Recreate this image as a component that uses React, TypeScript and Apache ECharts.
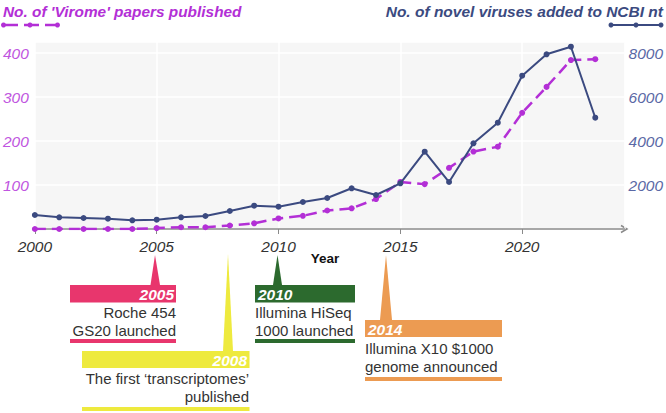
import React, { useEffect, useRef } from "react";
import * as echarts from "echarts";

const years = [2000, 2001, 2002, 2003, 2004, 2005, 2006, 2007, 2008, 2009, 2010, 2011, 2012, 2013, 2014, 2015, 2016, 2017, 2018, 2019, 2020, 2021, 2022, 2023];
const viromePapers = [0, 0, 0, 0, 0, 2, 4, 4, 8, 13, 24, 30, 42, 47, 68, 107, 102, 139, 176, 187, 264, 323, 384, 386];
const novelViruses = [636, 532, 500, 468, 395, 423, 532, 590, 818, 1060, 1014, 1227, 1409, 1850, 1545, 2077, 3514, 2136, 3895, 4832, 6968, 7941, 8286, 5059];

const leftTitle = "No. of 'Virome' papers published";
const rightTitle = "No. of novel viruses added to NCBI nt";
const xName = "Year";

const PURPLE = "#b32fd6";
const PURPLE_LABEL = "#c055e0";
const BLUE = "#3b4a80";
const BLUE_LABEL = "#5a68a5";
const FONT = "'Liberation Sans', Arial, Helvetica, sans-serif";

const PINK = "#e8366d";
const YELLOW = "#eeea3e";
const GREEN = "#2c6a2e";
const ORANGE = "#ec9b52";

function tri(x1: number, apexX: number, apexY: number, x2: number, baseY: number, color: string) {
  return {
    type: "polygon",
    shape: { points: [[x1, baseY], [apexX, apexY], [x2, baseY]] },
    style: { fill: color },
    silent: true,
  };
}
function rect(x: number, y: number, w: number, h: number, color: string) {
  return { type: "rect", shape: { x, y, width: w, height: h }, style: { fill: color }, silent: true };
}
function txt(x: number, y: number, text: string, opts: any = {}) {
  return {
    type: "text",
    x,
    y,
    silent: true,
    style: {
      text,
      fontFamily: FONT,
      fontSize: 15,
      fill: "#333333",
      align: "left",
      verticalAlign: "middle",
      lineHeight: 18,
      ...opts,
    },
  };
}

export default function App() {
  const ref = useRef<HTMLDivElement>(null);
  useEffect(() => {
    const chart = echarts.init(ref.current!, null, { renderer: "svg" });
    const papersData = years.map((y, i) => [y, viromePapers[i]]);
    const virusData = years.map((y, i) => [y, novelViruses[i]]);

    const graphic: any[] = [
      // titles
      txt(3, 11, leftTitle, { fontSize: 15.4, fontWeight: "bold", fontStyle: "italic", fill: PURPLE }),
      txt(663, 11, rightTitle, { fontSize: 15.5, fontWeight: "bold", fontStyle: "italic", fill: BLUE, align: "right" }),
      // legend purple
      { type: "line", shape: { x1: 3, y1: 25, x2: 58, y2: 25 }, style: { stroke: PURPLE, lineWidth: 2.5, lineDash: [15, 6] }, silent: true },
      { type: "circle", shape: { cx: 3.5, cy: 25, r: 2.5 }, style: { fill: PURPLE }, silent: true },
      { type: "circle", shape: { cx: 30, cy: 25, r: 2.5 }, style: { fill: PURPLE }, silent: true },
      { type: "circle", shape: { cx: 57.5, cy: 25, r: 2.5 }, style: { fill: PURPLE }, silent: true },
      // legend blue
      { type: "line", shape: { x1: 611, y1: 25, x2: 661, y2: 25 }, style: { stroke: BLUE, lineWidth: 2 }, silent: true },
      { type: "circle", shape: { cx: 611, cy: 25, r: 2.5 }, style: { fill: BLUE }, silent: true },
      { type: "circle", shape: { cx: 636, cy: 25, r: 2.5 }, style: { fill: BLUE }, silent: true },
      { type: "circle", shape: { cx: 661, cy: 25, r: 2.5 }, style: { fill: BLUE }, silent: true },
      // axis name
      txt(325, 258, xName, { fontSize: 13.5, fontWeight: "bold", fill: "#111111", align: "center" }),
      // axis arrow head (open chevron)
      { type: "polyline", shape: { points: [[621, 225.5], [627, 229], [621, 232.5]] }, style: { stroke: "#8a8a8a", lineWidth: 1.5, fill: null }, silent: true },

      // 2005 pink
      tri(150.5, 155, 255, 160, 285, PINK),
      rect(70, 285, 106, 17.5, PINK),
      txt(174, 294, "2005", { fill: "#ffffff", fontWeight: "bold", fontStyle: "italic", fontSize: 15.5, align: "right" }),
      txt(176, 321, "Roche 454\nGS20 launched", { align: "right" }),
      rect(70, 339, 106, 4, PINK),

      // 2008 yellow
      tri(223, 228, 254, 233, 351, YELLOW),
      rect(82, 351, 167.5, 17, YELLOW),
      txt(247, 360, "2008", { fill: "#ffffff", fontWeight: "bold", fontStyle: "italic", fontSize: 15.5, align: "right" }),
      txt(249, 387, "The first \u2018transcriptomes\u2019\npublished", { align: "right" }),
      rect(82, 407, 167.5, 4, YELLOW),

      // 2010 green
      tri(273, 277.5, 255, 282, 285, GREEN),
      rect(255, 285, 100, 17.5, GREEN),
      txt(258, 294, "2010", { fill: "#ffffff", fontWeight: "bold", fontStyle: "italic", fontSize: 15.5 }),
      txt(255, 321, "Illumina HiSeq\n1000 launched"),
      rect(255, 339, 100, 4, GREEN),

      // 2014 orange
      tri(380, 386, 255, 392, 320, ORANGE),
      rect(365, 320, 137, 17, ORANGE),
      txt(368, 329, "2014", { fill: "#ffffff", fontWeight: "bold", fontStyle: "italic", fontSize: 15.5 }),
      txt(365, 357.5, "Illumina X10 $1000\ngenome announced"),
      rect(365, 377, 137, 4, ORANGE),
    ];

    chart.setOption({
      animation: false,
      textStyle: { fontFamily: FONT },
      grid: {
        left: 33,
        right: 40,
        top: 42,
        bottom: 184,
        show: true,
        backgroundColor: "#f6f6f6",
        borderWidth: 0,
      },
      xAxis: {
        type: "value",
        min: 2000,
        max: 2024.2,
        interval: 5,
        axisLine: {
          show: true,
          lineStyle: { color: "#8a8a8a", width: 1.5 },
        },
        axisTick: { show: true, length: 5, lineStyle: { color: "#8a8a8a", width: 1 } },
        axisLabel: {
          showMaxLabel: false,
          fontSize: 15.5,
          fontStyle: "italic",
          color: "#333333",
          margin: 9,
          formatter: (v: number) => String(Math.round(v)),
        },
        splitLine: { show: true, lineStyle: { color: "#ffffff", width: 1.5 } },
      },
      yAxis: [
        {
          type: "value",
          min: 0,
          max: 425,
          interval: 100,
          position: "left",
          axisLine: { show: false },
          axisTick: { show: false },
          axisLabel: {
            showMinLabel: false,
            showMaxLabel: false,
            fontSize: 15.5,
            fontStyle: "italic",
            color: PURPLE_LABEL,
            margin: 6,
            formatter: (v: number) => String(v),
          },
          splitLine: { show: true, lineStyle: { color: "#ffffff", width: 1.5 } },
        },
        {
          type: "value",
          min: 0,
          max: 8500,
          interval: 2000,
          position: "right",
          axisLine: { show: false },
          axisTick: { show: false },
          axisLabel: {
            showMinLabel: false,
            showMaxLabel: false,
            fontSize: 15.5,
            fontStyle: "italic",
            color: BLUE_LABEL,
            margin: 4,
            formatter: (v: number) => String(v),
          },
          splitLine: { show: false },
        },
      ],
      series: [
        {
          type: "line",
          name: leftTitle,
          yAxisIndex: 0,
          data: papersData,
          symbol: "circle",
          symbolSize: 6,
          itemStyle: { color: PURPLE },
          lineStyle: { color: PURPLE, width: 2.5, type: [11, 6] },
          z: 3,
        },
        {
          type: "line",
          name: rightTitle,
          yAxisIndex: 1,
          data: virusData,
          symbol: "circle",
          symbolSize: 6,
          itemStyle: { color: BLUE },
          lineStyle: { color: BLUE, width: 2 },
          z: 4,
        },
      ],
      graphic,
    });
    return () => chart.dispose();
  }, []);
  return (
    <div
      ref={ref}
      style={{ position: "absolute", left: 0, top: 0, width: 666, height: 413 }}
    />
  );
}
